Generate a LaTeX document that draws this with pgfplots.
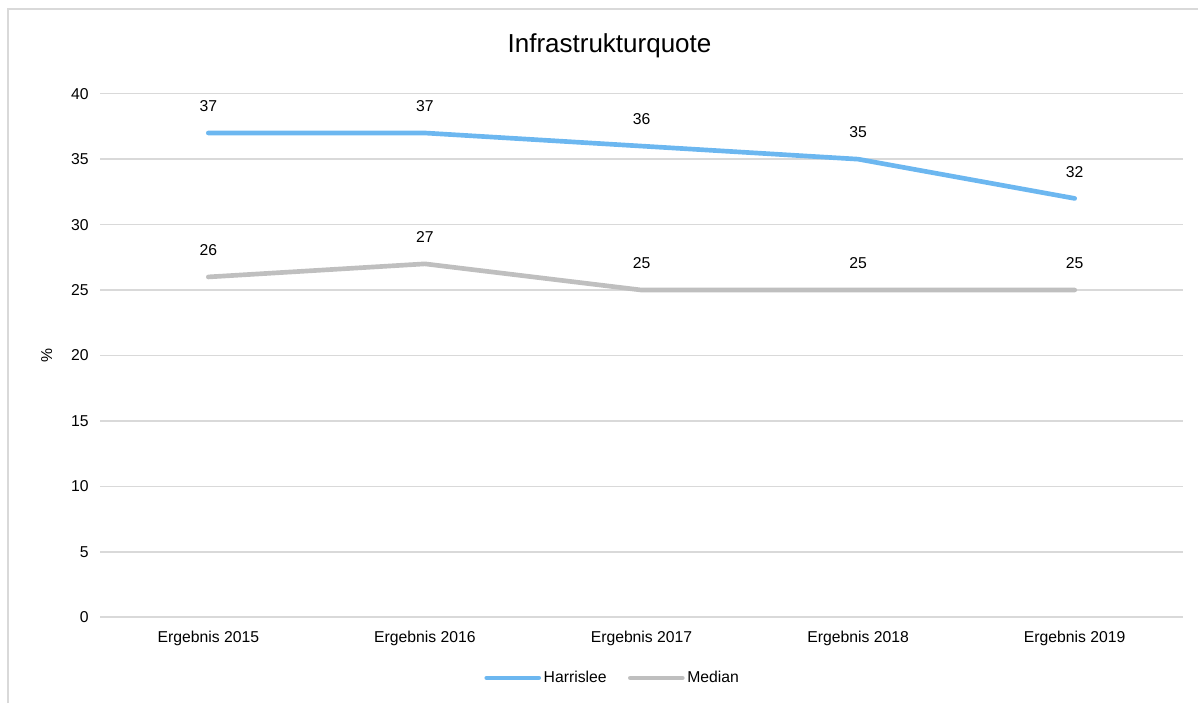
\documentclass[border=0pt]{standalone}
\usepackage{fontspec}
\setmainfont{Liberation Sans}
\usepackage{pgfplots}
\pgfplotsset{compat=1.18}
\definecolor{hblue}{HTML}{6CB7F0}
\definecolor{mgray}{HTML}{BFBFBF}
\definecolor{gridc}{HTML}{D9D9D9}
\begin{document}
\begin{tikzpicture}
\path[use as bounding box] (0pt,0pt) rectangle (898.5pt,527.25pt);
\draw[gridc, line width=1.5pt] (6pt,0pt) -- (6pt,520.5pt) -- (898.5pt,520.5pt);
\node[font=\fontsize{19.5}{22}\selectfont, anchor=center] at (457.1pt,493.1pt) {Infrastrukturquote};
\begin{axis}[
  at={(75pt,64.35pt)}, anchor=south west,
  scale only axis, width=812.25pt, height=392.6pt,
  xmin=-0.5, xmax=4.5, ymin=0, ymax=40,
  xtick={0,1,2,3,4},
  xticklabels={Ergebnis 2015,Ergebnis 2016,Ergebnis 2017,Ergebnis 2018,Ergebnis 2019},
  ytick={0,5,...,40},
  major tick length=0pt,
  axis line style={draw=none},
  ymajorgrids, grid style={gridc, line width=1.1pt},
  /pgf/number format/assume math mode=true,
  tick label style={font=\fontsize{11.8}{13}\selectfont},
  yticklabel style={xshift=-5pt},
  xticklabel style={yshift=-7pt},
  ylabel={\%}, ylabel style={font=\fontsize{11.8}{13}\selectfont, at={(axis description cs:-0.0492,0.5)}, anchor=center},
  nodes near coords,
  every node near coord/.append style={anchor=center, yshift=20pt, font=\fontsize{11.8}{13}\selectfont, text=black},
  legend style={at={(axis description cs:0.4737,-0.116)}, anchor=center, draw=none, legend columns=2,
    font=\fontsize{11.8}{13}\selectfont, /tikz/every even column/.append style={column sep=14pt}},
  legend image code/.code={\draw[#1, line cap=round] (0pt,0pt) -- (39pt,0pt);},
  clip=false,
]
\addplot[hblue, line width=3.5pt, line cap=round, line join=round] coordinates {(0,37) (1,37) (2,36) (3,35) (4,32)};
\addlegendentry{Harrislee}
\addplot[mgray, line width=3.5pt, line cap=round, line join=round] coordinates {(0,26) (1,27) (2,25) (3,25) (4,25)};
\addlegendentry{Median}
\end{axis}
\end{tikzpicture}
\end{document}
